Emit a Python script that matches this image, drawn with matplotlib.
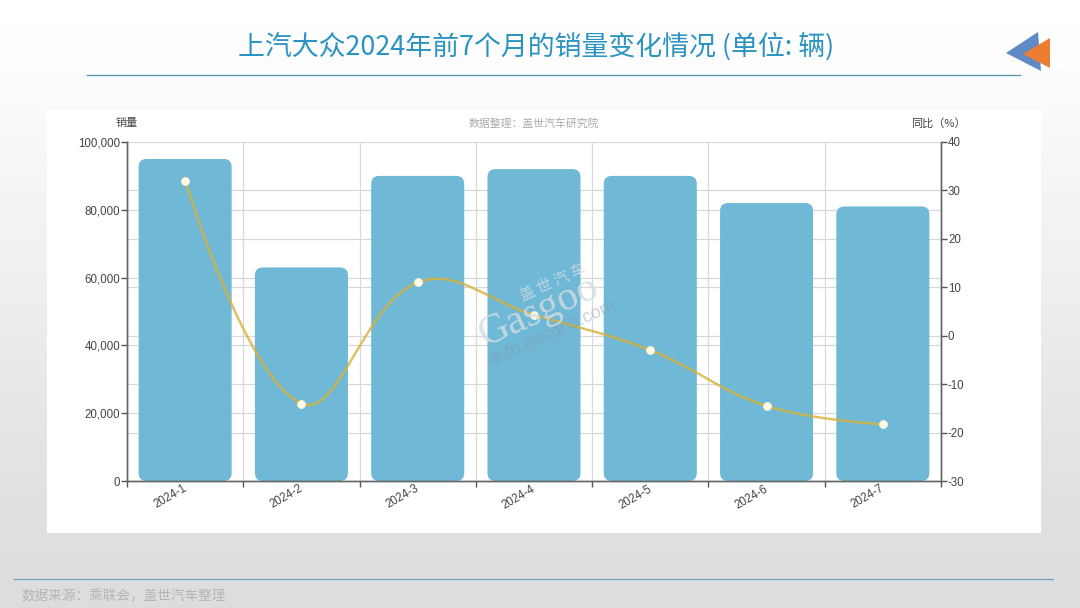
import numpy as np
import matplotlib
matplotlib.use('Agg')
import matplotlib.pyplot as plt
from matplotlib.patches import FancyBboxPatch, PathPatch, Polygon
from matplotlib.path import Path
from matplotlib.ticker import FuncFormatter

plt.rcParams['font.family'] = ['Liberation Sans', 'Noto Sans CJK SC', 'DejaVu Sans']
plt.rcParams['axes.unicode_minus'] = False

# Data
months = ['2024-1', '2024-2', '2024-3', '2024-4', '2024-5', '2024-6', '2024-7']
sales = [95000, 63000, 90000, 92000, 90000, 82000, 81000]
yoy = [32, -14, 11, 4.3, -3, -14.5, -18.3]
sales_ticks = [0, 20000, 40000, 60000, 80000, 100000]
yoy_ticks = [-30, -20, -10, 0, 10, 20, 30, 40]

W, H = 1080, 608
fig = plt.figure(figsize=(W / 100, H / 100), dpi=100)
cjk = ['Noto Sans CJK SC', 'DejaVu Sans']

# Slide background, white fading to grey, in pixel coordinates
bg = fig.add_axes([0, 0, 1, 1], zorder=0)
bg.set_xlim(0, W)
bg.set_ylim(H, 0)
bg.axis('off')
shade = np.interp(np.arange(H), [0, 70, 500, 608], [255, 252, 224, 220]) / 255
bg.imshow(shade[:, None], cmap='gray', vmin=0, vmax=1, aspect='auto', extent=[0, W, H, 0])
bg.add_patch(plt.Rectangle((47, 110), 994, 423, color='white', lw=0))
bg.plot([87, 1020], [74.5, 74.5], color='#4f93ad', lw=0.9)
bg.plot([14, 1053], [578.5, 578.5], color='#6f9fc0', lw=0.9)
bg.add_patch(Polygon([[1006, 53], [1038, 32], [1041, 71]], color='#5f8ac4', lw=0))
bg.add_patch(Polygon([[1023, 54], [1050, 38], [1050, 68]], color='#ed7d31', lw=0))
bg.text(536, 46.5, '上汽大众2024年前7个月的销量变化情况 (单位: 辆)', color='#2a93c0',
        fontsize=19.4, ha='center', va='center', family=cjk)
bg.text(21, 596, '数据来源：乘联会，盖世汽车整理', color='#b4b4b4', fontsize=9.8,
        ha='left', va='center', family=cjk)

# Chart area
left, right, top, bottom = 127, 941, 142, 481
ax = fig.add_axes([left / W, 1 - bottom / H, (right - left) / W, (bottom - top) / H], zorder=1)
ax.patch.set_alpha(0)
ax.set_xlim(0, len(months))
ax.set_ylim(0, 100000)
ax2 = ax.twinx()
ax2.set_ylim(-30, 40)
ax2.patch.set_alpha(0)

grid = '#d8d8d8'
ax.set_axisbelow(True)
ax.set_xticks(np.arange(len(months) + 1))
ax.set_xticklabels([])
ax.set_yticks(sales_ticks)
ax.yaxis.set_major_formatter(FuncFormatter(lambda v, p: f'{int(v):,}'))
ax.grid(True, color=grid, lw=0.9)
# right axis gridlines sit on the left axes so the bars cover them
ax.set_yticks([(v + 30) / 70 * 100000 for v in yoy_ticks], minor=True)
ax.grid(True, which='minor', axis='y', color=grid, lw=0.9)
ax.tick_params(which='minor', length=0)
ax2.set_yticks(yoy_ticks)

for a in (ax, ax2):
    a.tick_params(which='major', length=4, width=1, color='#555555', labelcolor='#444444', labelsize=8.3, pad=1)
    a.spines['top'].set_visible(False)
    for s in ('left', 'right', 'bottom'):
        a.spines[s].set_color('#666666')
        a.spines[s].set_linewidth(1)

# Rounded bars
bar_w = 0.8
px_x = len(months) / (right - left)
px_y = 100000 / (bottom - top)
radius = 8 * px_x
for i, val in enumerate(sales):
    ax.add_patch(FancyBboxPatch((i + 0.5 - bar_w / 2, 0), bar_w, val,
                                boxstyle=f'round,pad=0,rounding_size={radius}',
                                mutation_aspect=px_y / px_x,
                                fc='#6fb8d6', ec='none', zorder=2))

for i, lab in enumerate(months):
    ax.text(i + 0.37, -0.047, lab, transform=ax.get_xaxis_transform(), rotation=30,
            ha='center', va='center', fontsize=8.3, color='#444444', rotation_mode='anchor')

# Smoothed line, bezier segments through the points, weighted by segment length
xs = np.arange(len(yoy)) + 0.5
ys = np.array(yoy, dtype=float)
pts = np.column_stack([xs, ys])
scale = np.array([(right - left) / len(months), (bottom - top) / 70])
smooth = 0.4
ctrl_in, ctrl_out = [], []
for i in range(len(pts)):
    if i == 0 or i == len(pts) - 1:
        ctrl_in.append(pts[i])
        ctrl_out.append(pts[i])
        continue
    v = pts[i + 1] - pts[i - 1]
    d0 = np.linalg.norm((pts[i] - pts[i - 1]) * scale)
    d1 = np.linalg.norm((pts[i + 1] - pts[i]) * scale)
    ctrl_in.append(pts[i] - v * smooth * d0 / (d0 + d1))
    ctrl_out.append(pts[i] + v * smooth * d1 / (d0 + d1))
verts = [tuple(pts[0])]
codes = [Path.MOVETO]
for i in range(len(pts) - 1):
    verts += [tuple(ctrl_out[i]), tuple(ctrl_in[i + 1]), tuple(pts[i + 1])]
    codes += [Path.CURVE4] * 3
ax2.add_patch(PathPatch(Path(verts, codes), fc='none', ec='#d8b23a', lw=1.8, alpha=0.8, zorder=4))
ax2.plot(xs, ys, ls='none', marker='o', ms=5.5, mfc='#fffbe6', mec='#fff6d0', mew=0.8, zorder=5)

# Axis names
bg2 = fig.add_axes([0, 0, 1, 1], zorder=5)
bg2.set_xlim(0, W)
bg2.set_ylim(H, 0)
bg2.axis('off')
bg2.text(127, 123, '销量', fontsize=8, color='#444444', ha='center', va='center', family=cjk)
bg2.text(534, 123, '数据整理：盖世汽车研究院', fontsize=7.8, color='#aaaaaa', ha='center', va='center', family=cjk)
bg2.text(938, 123, '同比（%）', fontsize=8, color='#444444', ha='center', va='center', family=cjk)

# Watermark
wm = '#d5dde3'
bg2.text(539, 312, 'Gasgoo', fontsize=30, color=wm, alpha=0.8, rotation=24, ha='center', va='center',
         family='Liberation Serif', rotation_mode='anchor')
bg2.text(553, 283, '盖 世 汽 车', fontsize=11, color=wm, alpha=0.8, rotation=24, ha='center', va='center',
         family=cjk, rotation_mode='anchor')
bg2.text(552, 333, 'auto.gasgoo.com', fontsize=13, color='#8a9aa8', alpha=0.45, rotation=24,
         ha='center', va='center', rotation_mode='anchor')

fig.savefig('out.png', dpi=100)
